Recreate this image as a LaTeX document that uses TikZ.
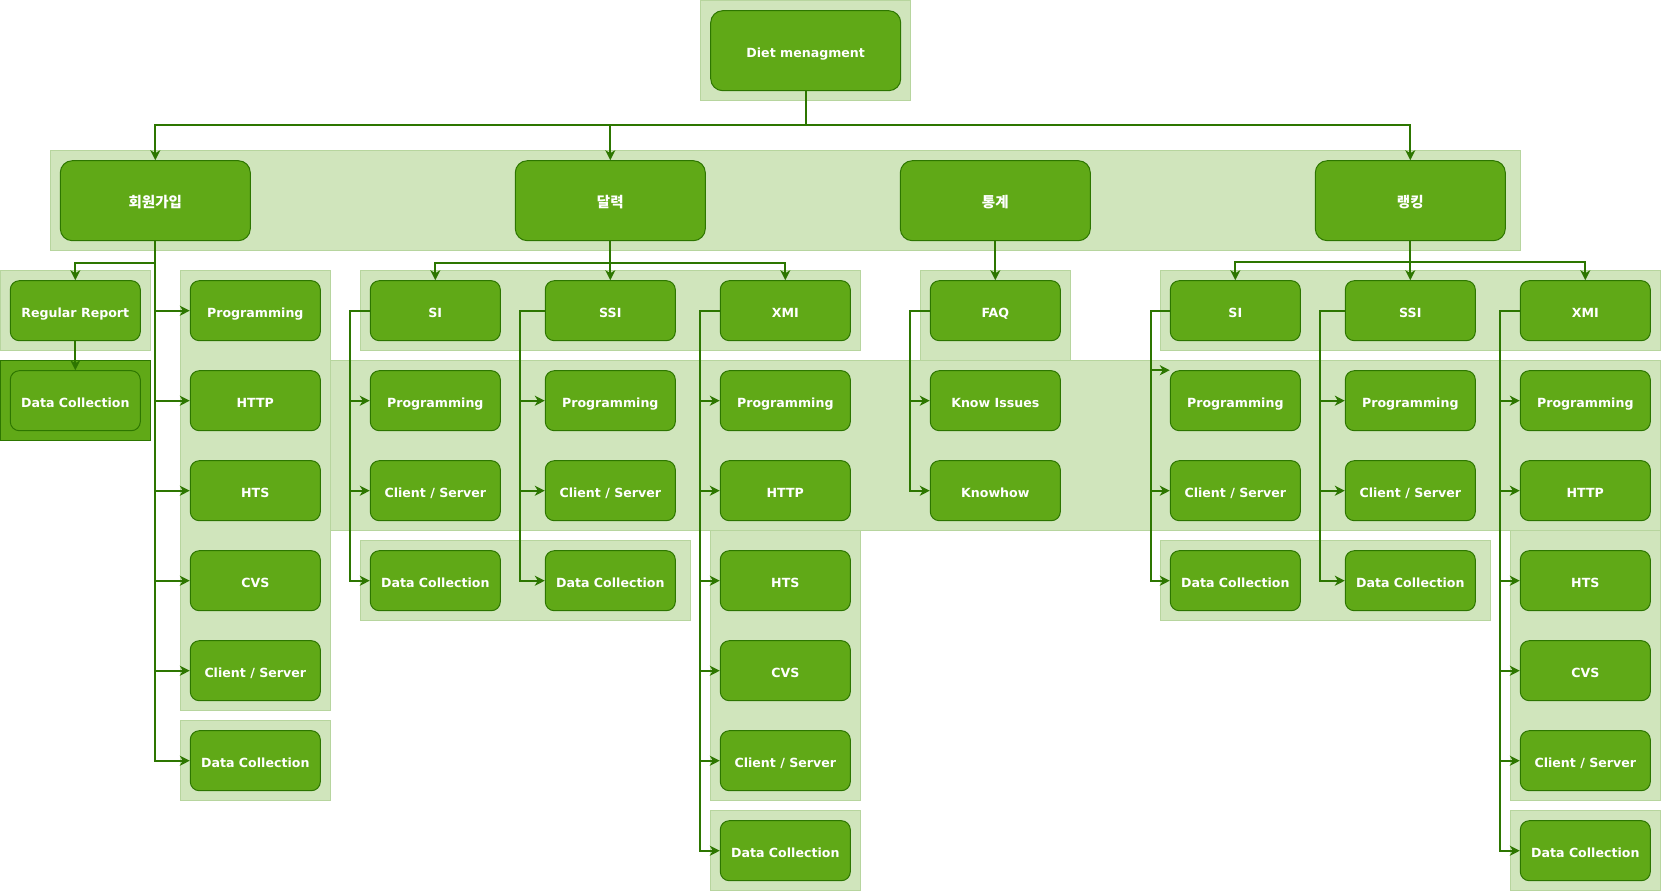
\documentclass[tikz,border=0pt]{standalone}
\usepackage{fontspec}
\setmainfont{DejaVu Sans}
\newfontfamily\kr{Noto Sans CJK KR}
\usetikzlibrary{arrows.meta}
\definecolor{gfill}{HTML}{60A917}
\definecolor{gline}{HTML}{2D7600}
\definecolor{lfill}{HTML}{D0E5BC}
\definecolor{lline}{HTML}{B7D59E}
\begin{document}
\begin{tikzpicture}[x=1pt,y=-1pt,
 box/.style={draw=gline, fill=gfill, line width=1pt, rounded corners=9pt, minimum width=130pt, minimum height=60pt, inner sep=0pt, text height=13.4pt, text depth=0pt, text=white, font=\fontsize{12.6}{14}\selectfont\bfseries},
 big/.style={box, minimum width=190pt, minimum height=80pt, rounded corners=12pt},
 krbig/.style={big, font=\kr\fontsize{14.5}{16}\selectfont\bfseries},
 grp/.style={draw=lline, fill=lfill, line width=1pt},
 dgrp/.style={draw=gline, fill=gfill, line width=1pt},
 arr/.style={draw=gline, line width=2pt, -{Stealth[length=10pt,width=10pt,inset=3pt]}}]
\useasboundingbox (0,0) rectangle (1661,891);
% group backgrounds
\draw[grp] (700.5,0.7) rectangle (910.7,100.7);
\draw[grp] (50.3,150.7) rectangle (1520.3,250.7);
\draw[grp] (0.3,270.7) rectangle (150.3,350.7);
\draw[dgrp] (0.3,360.7) rectangle (150.3,440.7);
\draw[grp] (180.3,270.7) rectangle (330.3,710.7);
\draw[grp] (180.3,720.7) rectangle (330.3,800.7);
\draw[grp] (360.3,270.7) rectangle (860.3,350.7);
\draw[grp] (330.3,360.7) rectangle (1660.3,530.7);
\draw[grp] (360.3,540.7) rectangle (690.3,620.7);
\draw[grp] (710.3,530.7) rectangle (860.3,800.7);
\draw[grp] (710.3,810.7) rectangle (860.3,890.7);
\draw[grp] (920.3,270.7) rectangle (1070.3,360.7);
\draw[grp] (1160.3,270.7) rectangle (1660.3,350.7);
\draw[grp] (1160.3,540.7) rectangle (1490.3,620.7);
\draw[grp] (1510.3,530.7) rectangle (1660.3,800.7);
\draw[grp] (1510.3,810.7) rectangle (1660.3,890.7);
% nodes
\node[big] (diet) at (805.7,50.7) {Diet menagment};
\node[krbig] (t1) at (155.3,200.7) {회원가입};
\node[krbig] (t2) at (610.3,200.7) {달력};
\node[krbig] (t3) at (995.3,200.7) {통계};
\node[krbig] (t4) at (1410.3,200.7) {랭킹};
\node[box] (rr) at (75.3,310.7) {Regular Report};
\node[box] (dc0) at (75.3,400.7) {Data Collection};
\node[box] (a1) at (255.3,310.7) {Programming};
\node[box] (a2) at (255.3,400.7) {HTTP};
\node[box] (a3) at (255.3,490.7) {HTS};
\node[box] (a4) at (255.3,580.7) {CVS};
\node[box] (a5) at (255.3,670.7) {Client / Server};
\node[box] (a6) at (255.3,760.7) {Data Collection};
\node[box] (b0) at (435.3,310.7) {SI};
\node[box] (b1) at (435.3,400.7) {Programming};
\node[box] (b2) at (435.3,490.7) {Client / Server};
\node[box] (b3) at (435.3,580.7) {Data Collection};
\node[box] (c0) at (610.3,310.7) {SSI};
\node[box] (c1) at (610.3,400.7) {Programming};
\node[box] (c2) at (610.3,490.7) {Client / Server};
\node[box] (c3) at (610.3,580.7) {Data Collection};
\node[box] (d0) at (785.3,310.7) {XMI};
\node[box] (d1) at (785.3,400.7) {Programming};
\node[box] (d2) at (785.3,490.7) {HTTP};
\node[box] (d3) at (785.3,580.7) {HTS};
\node[box] (d4) at (785.3,670.7) {CVS};
\node[box] (d5) at (785.3,760.7) {Client / Server};
\node[box] (d6) at (785.3,850.7) {Data Collection};
\node[box] (f0) at (995.3,310.7) {FAQ};
\node[box] (f1) at (995.3,400.7) {Know Issues};
\node[box] (f2) at (995.3,490.7) {Knowhow};
\node[box] (e0) at (1235.3,310.7) {SI};
\node[box] (e1) at (1235.3,400.7) {Programming};
\node[box] (e2) at (1235.3,490.7) {Client / Server};
\node[box] (e3) at (1235.3,580.7) {Data Collection};
\node[box] (g0) at (1410.3,310.7) {SSI};
\node[box] (g1) at (1410.3,400.7) {Programming};
\node[box] (g2) at (1410.3,490.7) {Client / Server};
\node[box] (g3) at (1410.3,580.7) {Data Collection};
\node[box] (h0) at (1585.3,310.7) {XMI};
\node[box] (h1) at (1585.3,400.7) {Programming};
\node[box] (h2) at (1585.3,490.7) {HTTP};
\node[box] (h3) at (1585.3,580.7) {HTS};
\node[box] (h4) at (1585.3,670.7) {CVS};
\node[box] (h5) at (1585.3,760.7) {Client / Server};
\node[box] (h6) at (1585.3,850.7) {Data Collection};
% bus points
\coordinate (bus0) at (805.7,125);
\coordinate (bus1) at (155.3,262.7);
\coordinate (bus2) at (610.3,262.7);
\coordinate (bus4) at (1410.3,262.3);
% connectors
\foreach \n in {t1,t2,t4} \draw[arr] (diet.south) -- (bus0) -| (\n.north);
\draw[arr] (t1.south) -- (bus1) -| (rr.north);
\foreach \n in {a1,a2,a3,a4,a5,a6} \draw[arr] (t1.south) |- (\n.west);
\draw[arr] (rr) -- (dc0);
\foreach \n in {b0,c0,d0} \draw[arr] (t2.south) -- (bus2) -| (\n.north);
\draw[arr] (t3) -- (f0);
\foreach \n in {e0,g0,h0} \draw[arr] (t4.south) -- (bus4) -| (\n.north);
\foreach \n in {b1,b2,b3} \draw[arr] (b0.west) -- ++(-20.3,0) |- (\n.west);
\foreach \n in {c1,c2,c3} \draw[arr] (c0.west) -- ++(-25.3,0) |- (\n.west);
\foreach \n in {d1,d2,d3,d4,d5,d6} \draw[arr] (d0.west) -- ++(-20.3,0) |- (\n.west);
\foreach \n in {f1,f2} \draw[arr] (f0.west) -- ++(-20.3,0) |- (\n.west);
\draw[arr] (e0.west) -- ++(-19.3,0) |- (e1.north west);
\foreach \n in {e2,e3} \draw[arr] (e0.west) -- ++(-19.3,0) |- (\n.west);
\foreach \n in {g1,g2,g3} \draw[arr] (g0.west) -- ++(-24.6,0) |- (\n.west);
\foreach \n in {h1,h2,h3,h4,h5,h6} \draw[arr] (h0.west) -- ++(-19.8,0) |- (\n.west);
\end{tikzpicture}
\end{document}
